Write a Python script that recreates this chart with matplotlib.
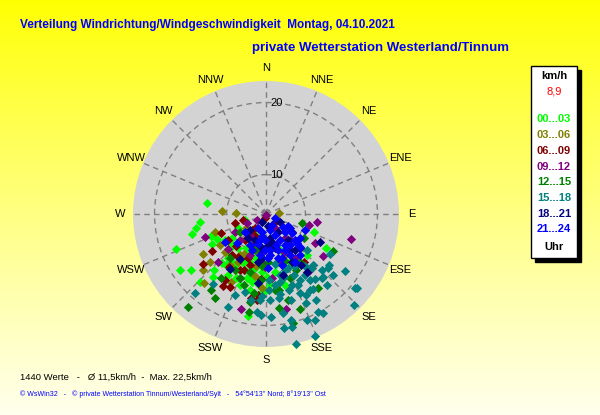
import numpy as np
import matplotlib
matplotlib.use('Agg')
import matplotlib.pyplot as plt
from matplotlib.patches import Rectangle
from matplotlib.transforms import offset_copy

W, H = 600, 415

# wind directions (deg) and speeds (km/h), one pair per reading, by time slot
dir_00_03 = [281, 263, 259, 255, 249, 237, 233, 248, 241, 243, 223, 224, 190, 111, 120, 135, 220,
             238, 221, 211, 212, 200, 201, 198, 220, 222, 192, 185, 179, 192, 177,
             243, 254, 208, 159, 153, 228, 207, 205, 192, 183, 207, 218, 171,
             212, 215, 197, 186, 227, 212, 184, 165, 235,
             208, 192, 205, 221, 193, 180, 235, 169, 211]
spd_00_03 = [13.2, 14.2, 14.8, 15.6, 18.2, 18.9, 17.8, 13.1, 13.5, 12.5, 15.6, 18.0, 19.1, 11.9, 14.5, 12.9, 16.3,
             11.5, 12.4, 13.2, 14.9, 15.4, 13.2, 11.8, 10.8, 14.0, 15.7, 14.1, 13.7, 13.9, 14.7,
             8.6, 6.8, 7.1, 9.9, 12.3, 11.1, 12.3, 14.8, 12.5, 15.8, 10.1, 14.0, 13.0,
             11.5, 13.0, 14.2, 14.9, 11.6, 8.4, 13.0, 15.2, 8.6,
             13.7, 14.6, 12.1, 13.0, 11.0, 15.5, 10.4, 11.9, 10.0]
dir_03_06 = [274, 272, 86, 238, 229, 228, 222, 215, 212, 227, 212, 190, 183, 236, 164, 155, 251,
             210, 192, 235, 209, 207, 191]
spd_03_06 = [10.8, 8.3, 4.7, 15.3, 15.2, 16.6, 17.7, 13.6, 11.5, 12.6, 8.4, 13.6, 15.2, 12.6, 5.2, 11.0, 12.4,
             12.6, 9.9, 7.2, 11.0, 15.5, 12.2]
dir_06_09 = [254, 255, 247, 232, 211, 206, 212, 190, 186, 186, 190, 142, 218, 219, 220, 205, 236, 197, 132, 190, 236,
             223, 202, 207, 201, 213, 221, 215, 184]
spd_06_09 = [8.7, 7.2, 11.6, 16.1, 16.6, 16.2, 15.7, 16.7, 16.9, 16.2, 2.3, 13.4, 5.9, 8.9, 12.2, 13.5, 14.0, 12.2, 4.5, 9.5, 11.1,
             10.8, 11.3, 7.3, 13.3, 12.0, 6.7, 14.0, 14.0]
dir_09_12 = [180, 104, 99, 106, 126, 121, 249, 236, 245, 240, 195, 168, 143, 181, 227, 201, 142, 147, 147, 225, 169, 225,
             185, 164, 200, 137, 175, 186, 155, 216, 202]
spd_09_12 = [1.0, 10.8, 11.9, 17.2, 14.8, 12.8, 14.0, 4.2, 6.6, 9.4, 18.4, 18.3, 14.8, 12.2, 12.0, 10.8, 8.4, 5.6, 12.1, 9.6, 8.6, 14.4,
             11.4, 11.7, 8.6, 9.3, 13.9, 9.8, 10.4, 7.8, 14.5]
dir_12_15 = [220, 216, 211, 215, 104, 119, 122, 145, 190, 190, 172, 166, 166, 160,
             209, 197, 184, 173, 219, 158, 197, 235, 195, 178, 170, 202, 152,
             184, 159, 189, 145]
spd_12_15 = [21.1, 17.9, 18.4, 15.8, 9.6, 15.6, 10.9, 17.4, 17.3, 18.6, 18.0, 17.2, 20.1, 18.7,
             13.8, 15.2, 14.1, 15.6, 12.8, 11.9, 9.7, 8.6, 13.3, 11.4, 15.7, 14.6, 13.7,
             12.0, 14.4, 16.0, 13.0]
dir_15_18 = [217, 201, 202, 185, 183, 177, 171, 170, 171, 167, 167, 159, 155, 152, 167, 158, 138, 148, 157,
             156, 163, 131, 137, 135, 131, 132, 129, 126, 129, 143, 139, 139, 130, 136, 122, 150, 222,
             170, 161, 155, 153, 168, 178, 164, 184, 150, 143, 190, 195, 167, 160, 154, 177, 150,
             164, 156, 173, 183, 147, 146, 158, 170, 151, 140, 177]
spd_15_18 = [17.1, 16.9, 18.7, 18.4, 18.7, 19.0, 16.7, 18.7, 20.5, 19.7, 20.5, 20.3, 20.6, 20.0, 22.5, 22.4, 16.7, 17.1, 16.8,
             18.3, 16.0, 12.4, 14.6, 15.9, 16.3, 17.4, 16.2, 18.3, 20.7, 16.3, 16.7, 17.8, 20.5, 21.7, 15.5, 20.3, 19.4,
             11.9, 13.1, 14.3, 15.3, 14.6, 15.5, 17.3, 16.8, 17.1, 13.9, 17.0, 16.1, 13.6, 15.4, 17.4, 16.8, 18.5,
             14.1, 15.8, 14.9, 16.3, 15.0, 15.9, 13.0, 16.2, 13.1, 14.8, 14.1]
dir_18_21 = [120, 117, 145, 207, 203, 140, 165, 185, 141, 210, 164, 225, 171, 146, 213, 187, 146, 187, 152, 217,
             168, 146, 190, 171, 125, 176, 135]
spd_18_21 = [5.5, 13.4, 14.8, 3.7, 8.0, 9.0, 9.3, 10.8, 11.1, 12.1, 13.7, 7.0, 7.2, 13.5, 14.1, 14.6, 6.7, 9.1, 12.4, 8.3,
             8.1, 10.6, 11.5, 4.5, 8.6, 8.6, 11.4]
dir_21_24 = [127, 126, 133, 134, 157, 149, 174, 182, 150, 165, 188, 207, 229, 236, 225, 112, 151, 210, 149, 163, 178,
             193, 152, 120, 140, 177, 201, 152, 132, 114, 195,
             166, 134, 142, 162, 125, 182, 160, 193, 190, 162, 119, 174]
spd_21_24 = [6.7, 8.7, 10.5, 11.3, 7.0, 9.5, 9.4, 7.6, 11.3, 11.0, 10.3, 9.2, 7.9, 11.6, 10.2, 10.5, 4.6, 5.5, 12.6, 12.2, 12.3,
             6.0, 8.2, 7.9, 12.2, 10.8, 9.9, 10.2, 10.0, 3.9, 8.6,
             5.6, 7.6, 10.0, 9.8, 10.4, 9.4, 11.2, 7.7, 6.9, 8.8, 7.4, 10.3]
calm_dir = [0]
calm_spd = [0]

slot_labels = ['00...03', '03...06', '06...09', '09...12', '12...15', '15...18', '18...21', '21...24']
slot_colors = ['#00FF00', '#808000', '#800000', '#800080', '#008000', '#008080', '#000080', '#0000FF']
slot_dirs = [dir_00_03, dir_03_06, dir_06_09, dir_09_12, dir_12_15, dir_15_18, dir_18_21, dir_21_24]
slot_spds = [spd_00_03, spd_03_06, spd_06_09, spd_09_12, spd_12_15, spd_15_18, spd_18_21, spd_21_24]

compass = ['N', 'NNE', 'NE', 'ENE', 'E', 'ESE', 'SE', 'SSE',
           'S', 'SSW', 'SW', 'WSW', 'W', 'WNW', 'NW', 'NNW']
ring_values = [10, 20]
max_speed = 22.5
current_speed = '8,9'


def px(x, y):
    return x / W, 1 - y / H


fig = plt.figure(figsize=(W / 100, H / 100), dpi=100)

# background gradient
bg = fig.add_axes([0, 0, 1, 1], zorder=-10)
t = np.linspace(0, 1, 256)[:, None]
grad = np.dstack([np.ones_like(t), np.ones_like(t), 0.93 * t ** 0.9])
bg.imshow(grad, aspect='auto', extent=[0, 1, 0, 1], origin='upper')
bg.axis('off')

# polar plot
cx, cy, rad = 266, 214, 133
ax = fig.add_axes([(cx - rad) / W, (H - cy - rad) / H, 2 * rad / W, 2 * rad / H], projection='polar')
ax.set_theta_zero_location('N')
ax.set_theta_direction(-1)
fwd = lambda r: np.sign(r) * np.abs(r) ** 1.5
inv = lambda r: np.sign(r) * np.abs(r) ** (2 / 3)
ax.set_rscale('function', functions=(fwd, inv))
ax.set_rlim(0, max_speed)
ax.set_facecolor('#D3D3D3')
ax.spines['polar'].set_visible(False)

ax.set_xticks(np.deg2rad(np.arange(0, 360, 22.5)))
ax.set_xticklabels(compass, fontsize=8, family='Liberation Sans')
ax.tick_params(axis='x', pad=-1.5)
ax.set_yticks(ring_values)
ax.set_yticklabels([])
ax.grid(True, color='#808080', linestyle=(0, (4, 3)), linewidth=1)

lab_tr = offset_copy(ax.transData, fig=fig, x=4, y=0, units='dots')
for v in ring_values:
    ax.text(0, v, str(v), transform=lab_tr, ha='left', va='center', fontsize=8,
            family='Liberation Sans', color='black')

ax.scatter(np.deg2rad(calm_dir), calm_spd, marker='s', s=30, color='#808080', linewidths=0, zorder=3)
for d, s, c in zip(slot_dirs, slot_spds, slot_colors):
    ax.scatter(np.deg2rad(d), s, marker='D', s=22, color=c, linewidths=0, clip_on=False, zorder=3)

# titles
fig.text(*px(20, 25), 'Verteilung Windrichtung/Windgeschwindigkeit  Montag, 04.10.2021',
         color='#0000FF', fontsize=8.5, fontweight='bold', ha='left', va='center',
         family=['Liberation Sans Narrow', 'Liberation Sans'])
fig.text(*px(252, 48), 'private Wetterstation Westerland/Tinnum',
         color='#0000FF', fontsize=9.5, fontweight='bold', ha='left', va='center',
         family=['Liberation Sans Narrow', 'Liberation Sans'])

# legend box
lx0, ly0, lx1, ly1 = 531, 66, 577, 258
fig.patches.append(Rectangle(px(lx0 + 4, ly1 + 4), (lx1 - lx0) / W, (ly1 - ly0) / H,
                             transform=fig.transFigure, facecolor='black', edgecolor='black', zorder=1))
fig.patches.append(Rectangle(px(lx0, ly1), (lx1 - lx0) / W, (ly1 - ly0) / H,
                             transform=fig.transFigure, facecolor='white', edgecolor='black', lw=1, zorder=2))
lcx = 554
fig.text(*px(lcx, 76), 'km/h', fontsize=8, fontweight='bold', ha='center', va='center', family='Liberation Sans')
fig.text(*px(lcx, 92), current_speed, fontsize=8, color='red', ha='center', va='center', family='Liberation Sans')
for i, (lab, c) in enumerate(zip(slot_labels, slot_colors)):
    fig.text(*px(lcx, 119.5 + i * 15.7), lab, fontsize=8, fontweight='bold', color=c,
             ha='center', va='center', family='Liberation Sans')
fig.text(*px(lcx, 247), 'Uhr', fontsize=8, fontweight='bold', ha='center', va='center', family='Liberation Sans')

# footer
fig.text(*px(20, 377), '1440 Werte   -   Ø 11,5km/h  -  Max. 22,5km/h', fontsize=6.8,
         ha='left', va='center', family='Liberation Sans')
fig.text(*px(20, 394), '© WsWin32   -   © private Wetterstation Tinnum/Westerland/Sylt   -   54°54\'13" Nord; 8°19\'13" Ost',
         fontsize=5.0, color='#0000FF', ha='left', va='center', family='Liberation Sans')

fig.savefig('out.png', dpi=100)
